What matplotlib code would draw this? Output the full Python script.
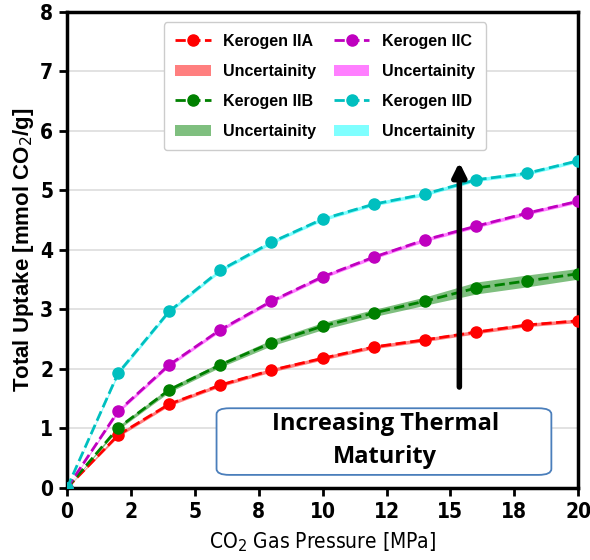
import matplotlib
matplotlib.use("Agg")
import matplotlib.pyplot as plt
import numpy as np
from matplotlib.ticker import FuncFormatter, MultipleLocator
from matplotlib.patches import FancyBboxPatch

pressure = [0, 2, 4, 6, 8, 10, 12, 14, 16, 18, 20]
uptake_IIA = [0.0, 0.89, 1.41, 1.73, 1.98, 2.18, 2.37, 2.49, 2.62, 2.74, 2.81]
uptake_IIB = [0.0, 1.01, 1.65, 2.07, 2.44, 2.72, 2.94, 3.14, 3.36, 3.48, 3.60]
uptake_IIC = [0.0, 1.29, 2.07, 2.66, 3.14, 3.55, 3.88, 4.17, 4.40, 4.62, 4.82]
uptake_IID = [0.0, 1.93, 2.97, 3.66, 4.13, 4.52, 4.77, 4.94, 5.18, 5.29, 5.50]
unc_IIA = [0.0, 0.03, 0.03, 0.03, 0.03, 0.03, 0.03, 0.03, 0.03, 0.03, 0.03]
unc_IIB = [0.0, 0.03, 0.04, 0.04, 0.05, 0.06, 0.06, 0.07, 0.10, 0.10, 0.09]
unc_IIC = [0.0, 0.03, 0.03, 0.03, 0.03, 0.03, 0.03, 0.03, 0.03, 0.03, 0.03]
unc_IID = [0.0, 0.03, 0.03, 0.03, 0.03, 0.03, 0.03, 0.03, 0.03, 0.03, 0.03]

series = [
    ("Kerogen IIA", uptake_IIA, unc_IIA, "red", "red"),
    ("Kerogen IIB", uptake_IIB, unc_IIB, "green", "green"),
    ("Kerogen IIC", uptake_IIC, unc_IIC, "m", "magenta"),
    ("Kerogen IID", uptake_IID, unc_IID, "c", "cyan"),
]

plt.rcParams['font.family'] = ['Liberation Sans', 'DejaVu Sans']

fig = plt.figure(figsize=(5.9, 5.6), dpi=100)
ax = fig.add_axes([0.1136, 0.1286, 0.8664, 0.85])

x = np.array(pressure)
for name, y, u, lc, fc in series:
    y = np.array(y); u = np.array(u)
    ax.plot(x, y, linestyle='--', color=lc, marker='o', markersize=8, linewidth=2, label=name, zorder=3)
    ax.fill_between(x, y - u, y + u, color=fc, alpha=0.5, linewidth=0, label="Uncertainity", zorder=2)

ax.set_xlim(0, 20)
ax.set_ylim(0, 8)
ax.xaxis.set_major_locator(MultipleLocator(2.5))
ax.xaxis.set_major_formatter(FuncFormatter(lambda v, p: "{:.0f}".format(v)))
ax.yaxis.set_major_locator(MultipleLocator(1))
ax.grid(axis='y', color='#dddddd', linewidth=1.2, zorder=0)
ax.set_axisbelow(True)

for s in ax.spines.values():
    s.set_linewidth(2.5)
ax.tick_params(width=2, length=6, labelsize=15, pad=4)
for lab in ax.get_xticklabels() + ax.get_yticklabels():
    lab.set_fontweight('bold')
    lab.set_family(['DejaVu Sans'])
    lab.set_stretch('condensed')

ax.set_xlabel("CO$_2$ Gas Pressure [MPa]", fontsize=15, labelpad=6,
              family=['DejaVu Sans'], stretch='condensed')
ax.set_ylabel("Total Uptake [mmol CO$_2$/g]", fontsize=16, fontweight='bold', labelpad=3)

leg = ax.legend(ncol=2, loc='upper center', bbox_to_anchor=(0.505, 0.995),
                prop={'weight': 'bold', 'size': 11.5},
                framealpha=1, edgecolor='#cccccc', handlelength=2.2, columnspacing=1.1,
                labelspacing=0.95, borderpad=0.7)

ax.annotate("", xy=(15.35, 5.52), xytext=(15.35, 1.65),
            arrowprops=dict(arrowstyle='-|>,head_width=0.4,head_length=0.8', color='black', lw=4),
            zorder=5)

box = FancyBboxPatch((5.85, 0.22), 13.1, 1.12, boxstyle="round,pad=0,rounding_size=0.5",
                     mutation_aspect=0.2, facecolor='white', edgecolor='#4a7ebb', linewidth=1.3, zorder=4)
ax.add_patch(box)
ax.text(12.45, 0.79, "Increasing Thermal\nMaturity", ha='center', va='center', fontsize=17,
        fontweight='bold', family=['Open Sans', 'DejaVu Sans'], linespacing=1.5, zorder=5)

fig.savefig("out.png", dpi=100)
